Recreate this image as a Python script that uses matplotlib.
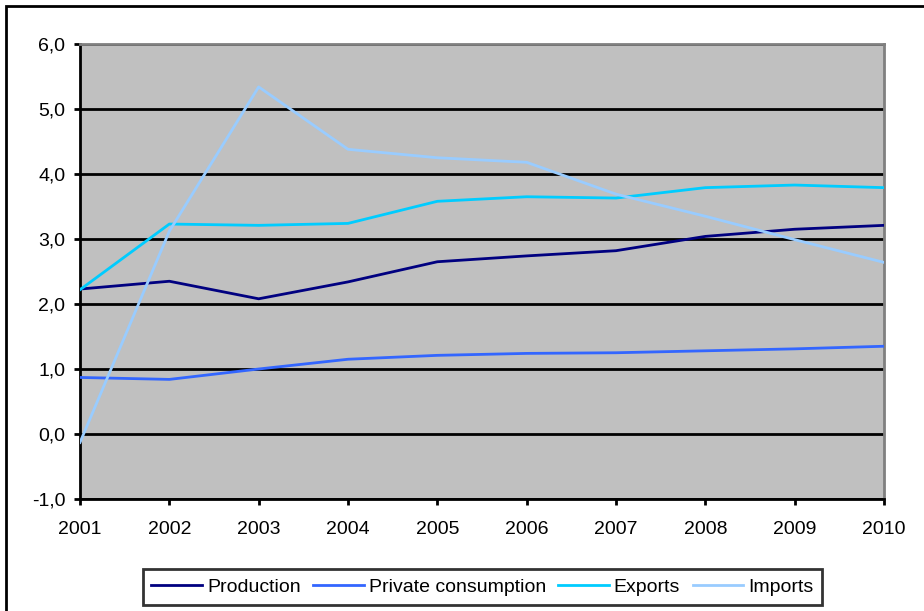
import matplotlib

matplotlib.use("Agg")
import matplotlib.pyplot as plt
from matplotlib.patches import Rectangle
from matplotlib.ticker import FuncFormatter

years = [2001, 2002, 2003, 2004, 2005, 2006, 2007, 2008, 2009, 2010]
production = [2.23, 2.35, 2.08, 2.34, 2.65, 2.74, 2.82, 3.04, 3.15, 3.21]
private_consumption = [0.87, 0.84, 1.00, 1.15, 1.21, 1.24, 1.25, 1.28, 1.31, 1.35]
exports = [2.22, 3.23, 3.21, 3.24, 3.58, 3.65, 3.63, 3.79, 3.83, 3.79]
imports = [-0.13, 3.12, 5.34, 4.38, 4.25, 4.18, 3.69, 3.35, 2.99, 2.64]

series = [
    ("Production", production, "#000080"),
    ("Private consumption", private_consumption, "#3366FF"),
    ("Exports", exports, "#00CCFF"),
    ("Imports", imports, "#99CCFF"),
]

plt.rcParams["font.family"] = ["Liberation Sans", "DejaVu Sans"]

W, H = 924, 611
fig = plt.figure(figsize=(W / 100, H / 100), dpi=100)

# outer chart border (cut off at right/bottom like the original)
fig.patches.append(Rectangle((6 / W, -0.05), 1.1, 1 - 6 / H + 0.05,
                             transform=fig.transFigure, fill=False,
                             edgecolor="black", linewidth=2))

ax = fig.add_axes([80 / W, 1 - 499 / H, 804 / W, 455 / H])
ax.set_facecolor("#C0C0C0")

for name, vals, color in series:
    ax.plot(years, vals, color=color, linewidth=2, label=name, zorder=3)

ax.set_xlim(years[0], years[-1])
ax.set_ylim(-1, 6)
ax.set_yticks(range(-1, 7))
ax.yaxis.set_major_formatter(FuncFormatter(lambda v, _: f"{v:.1f}".replace(".", ",")))
ax.set_xticks(years)
ax.yaxis.grid(True, color="black", linewidth=2, zorder=1)
ax.set_axisbelow(True)

ax.spines["left"].set_linewidth(2)
ax.spines["bottom"].set_linewidth(2)
ax.spines["top"].set_color("#808080")
ax.spines["right"].set_color("#808080")
ax.spines["top"].set_linewidth(2)
ax.spines["right"].set_linewidth(2)
ax.tick_params(axis="both", direction="out", length=4.5, width=2, labelsize=14)
ax.tick_params(axis="y", pad=6)
ax.tick_params(axis="x", pad=11)

leg = fig.legend(loc="center", bbox_to_anchor=(482.5 / W, 1 - 587 / H), ncol=4,
                 frameon=True, fancybox=False, edgecolor="black", fontsize=14,
                 handlelength=2.6, handletextpad=0.25, columnspacing=0.65,
                 borderpad=0.45, borderaxespad=0)
leg.get_frame().set_linewidth(2)

fig.savefig("out.png", dpi=100)
